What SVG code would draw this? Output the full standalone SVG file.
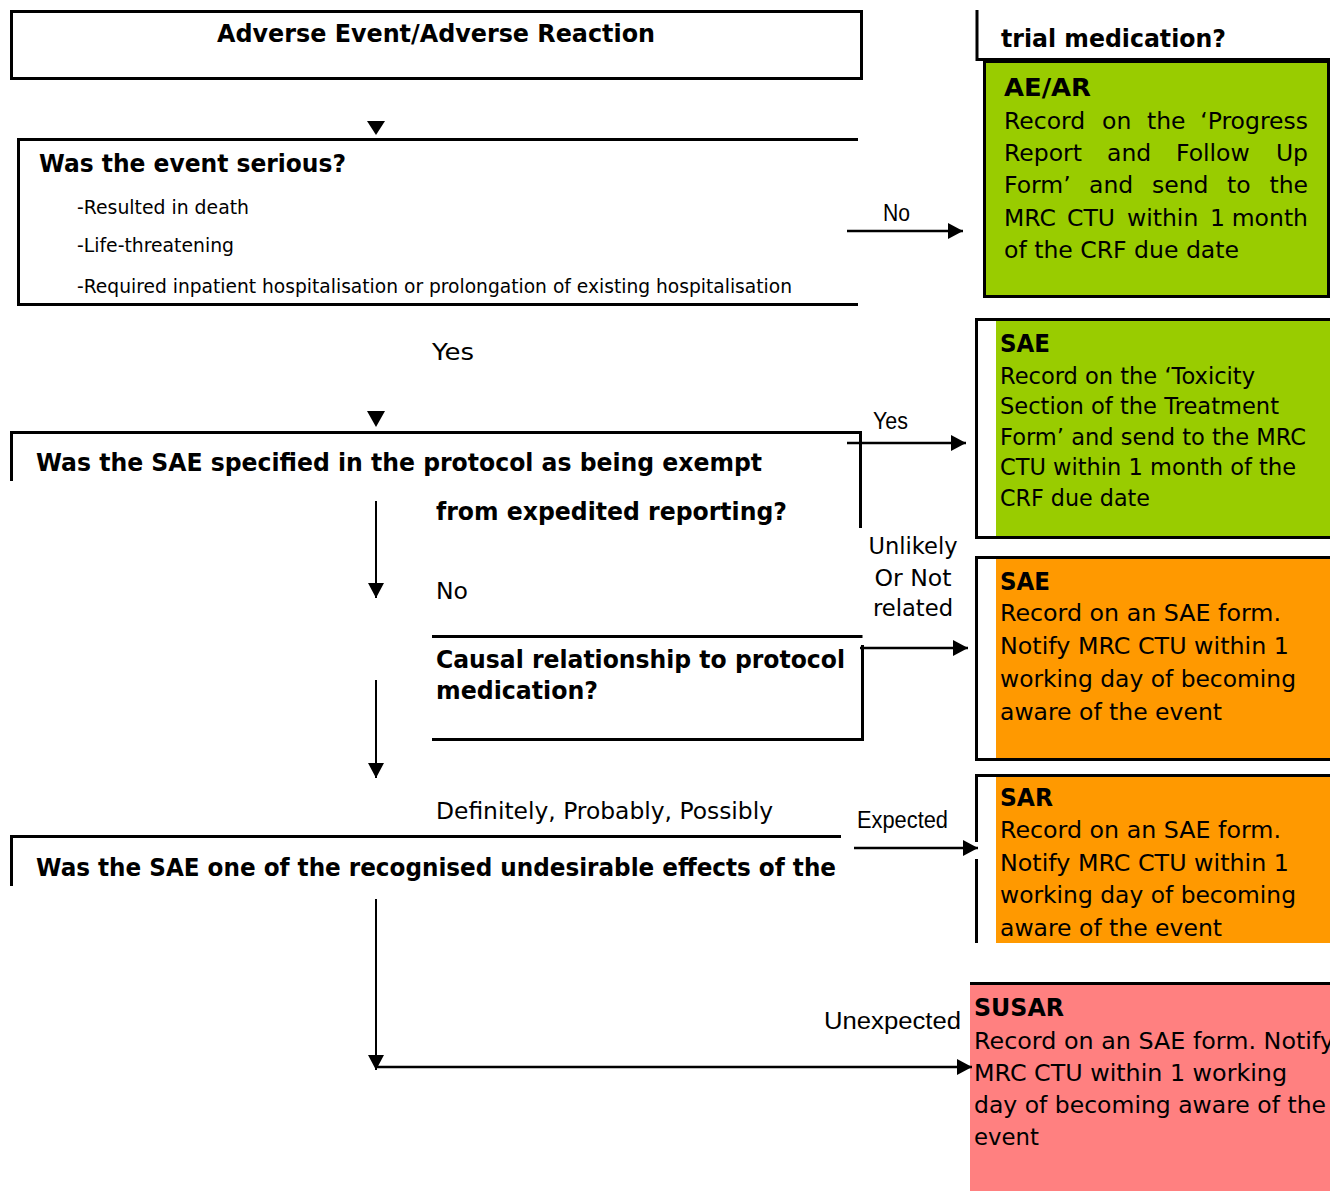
<svg xmlns="http://www.w3.org/2000/svg" width="1330" height="1191" viewBox="0 0 1330 1191">
  <style>
    text { font-family: "DejaVu Sans", Verdana, sans-serif; fill: #000; }
    .hd { font-weight: bold; font-size: 24px; }
    .bd { font-size: 23.5px; }
    .sm { font-size: 19px; }
    .lb { font-size: 23px; }
    .nl { font-family: "Liberation Sans", Arial, sans-serif; font-size: 23px; }
    .frame { fill: none; stroke: #000; stroke-width: 3; }
    .edge { fill: none; stroke: #000; stroke-width: 2.5; }
    .thin { fill: none; stroke: #000; stroke-width: 2; }
  </style>
  <defs>
    <marker id="ah" markerUnits="userSpaceOnUse" markerWidth="15" markerHeight="16" refX="15" refY="8" orient="auto">
      <path d="M0,0 L15,8 L0,16 z" fill="#000"/>
    </marker>
  </defs>

  <rect width="1330" height="1191" fill="#fff"/>

  <!-- start box -->
  <g id="n-start">
    <rect class="frame" x="11.5" y="11.5" width="850" height="67"/>
    <text class="hd" x="217" y="42" textLength="438" lengthAdjust="spacingAndGlyphs">Adverse Event/Adverse Reaction</text>
  </g>

  <!-- seriousness question -->
  <g id="n-serious">
    <path class="frame" d="M858,139.5 H18.5 V304.5 H858"/>
    <text class="hd" x="39" y="172" textLength="307" lengthAdjust="spacingAndGlyphs">Was the event serious?</text>
    <text class="sm" x="77" y="214" textLength="172" lengthAdjust="spacingAndGlyphs">-Resulted in death</text>
    <text class="sm" x="77" y="252" textLength="157" lengthAdjust="spacingAndGlyphs">-Life-threatening</text>
    <text class="sm" x="77" y="293" textLength="715" lengthAdjust="spacingAndGlyphs">-Required inpatient hospitalisation or prolongation of existing hospitalisation</text>
  </g>

  <!-- trailing part of the expectedness question -->
  <g id="n-trial">
    <path class="frame" d="M977,10 V59.5 H1330"/>
    <text class="hd" x="1001" y="47" textLength="225" lengthAdjust="spacingAndGlyphs">trial medication?</text>
  </g>

  <!-- AE/AR outcome (justified paragraph) -->
  <g id="n-aear">
    <rect x="984.5" y="61.5" width="344" height="235" fill="#99CC00" stroke="#000" stroke-width="3"/>
    <text class="hd" x="1004" y="96" textLength="87" lengthAdjust="spacingAndGlyphs">AE/AR</text>
    <text class="bd" y="129"><tspan x="1004">Record</tspan><tspan x="1102">on</tspan><tspan x="1147">the</tspan><tspan x="1308" text-anchor="end">‘Progress</tspan></text>
    <text class="bd" y="161"><tspan x="1004">Report</tspan><tspan x="1107">and</tspan><tspan x="1176">Follow</tspan><tspan x="1308" text-anchor="end">Up</tspan></text>
    <text class="bd" y="193"><tspan x="1004">Form’</tspan><tspan x="1089">and</tspan><tspan x="1152">send</tspan><tspan x="1227">to</tspan><tspan x="1308" text-anchor="end">the</tspan></text>
    <text class="bd" y="226"><tspan x="1004">MRC</tspan><tspan x="1067">CTU</tspan><tspan x="1127">within</tspan><tspan x="1210">1</tspan><tspan x="1308" text-anchor="end">month</tspan></text>
    <text class="bd" x="1004" y="258" textLength="235" lengthAdjust="spacingAndGlyphs">of the CRF due date</text>
  </g>

  <!-- exemption question -->
  <g id="n-exempt">
    <path class="frame" d="M11.5,481 V432.5 H860.5 V528"/>
    <text class="hd" x="36" y="471" textLength="726" lengthAdjust="spacingAndGlyphs">Was the SAE specified in the protocol as being exempt</text>
    <text class="hd" x="436" y="520" textLength="351" lengthAdjust="spacingAndGlyphs">from expedited reporting?</text>
  </g>

  <!-- SAE, exempt outcome -->
  <g id="n-sae-exempt">
    <rect x="996" y="320" width="334" height="217" fill="#99CC00"/>
    <path class="frame" d="M1330,319.5 H976.5 V537.5 H1330"/>
    <text class="hd" x="1000" y="352" textLength="50" lengthAdjust="spacingAndGlyphs">SAE</text>
    <text class="bd" x="1000" y="384" textLength="255" lengthAdjust="spacingAndGlyphs">Record on the ‘Toxicity</text>
    <text class="bd" x="1000" y="414" textLength="279" lengthAdjust="spacingAndGlyphs">Section of the Treatment</text>
    <text class="bd" x="1000" y="445" textLength="306" lengthAdjust="spacingAndGlyphs">Form’ and send to the MRC</text>
    <text class="bd" x="1000" y="475" textLength="296" lengthAdjust="spacingAndGlyphs">CTU within 1 month of the</text>
    <text class="bd" x="1000" y="506" textLength="150" lengthAdjust="spacingAndGlyphs">CRF due date</text>
  </g>

  <!-- causality question -->
  <g id="n-causal">
    <path class="frame" d="M432,636.5 H862.5 M862.5,645 V739.5 H432"/>
    <text class="hd" x="436" y="668" textLength="409" lengthAdjust="spacingAndGlyphs">Causal relationship to protocol</text>
    <text class="hd" x="436" y="699" textLength="162" lengthAdjust="spacingAndGlyphs">medication?</text>
  </g>

  <!-- SAE, unrelated outcome -->
  <g id="n-sae-unrelated">
    <rect x="996" y="558" width="334" height="200" fill="#FF9900"/>
    <path class="frame" d="M1330,557.5 H976.5 V759.5 H1330"/>
    <text class="hd" x="1000" y="590" textLength="50" lengthAdjust="spacingAndGlyphs">SAE</text>
    <text class="bd" x="1000" y="621" textLength="281" lengthAdjust="spacingAndGlyphs">Record on an SAE form.</text>
    <text class="bd" x="1000" y="654" textLength="289" lengthAdjust="spacingAndGlyphs">Notify MRC CTU within 1</text>
    <text class="bd" x="1000" y="687" textLength="296" lengthAdjust="spacingAndGlyphs">working day of becoming</text>
    <text class="bd" x="1000" y="720" textLength="222" lengthAdjust="spacingAndGlyphs">aware of the event</text>
  </g>

  <!-- expectedness question -->
  <g id="n-expected">
    <path class="frame" d="M11.5,886 V836.5 H841"/>
    <text class="hd" x="36" y="876" textLength="800" lengthAdjust="spacingAndGlyphs">Was the SAE one of the recognised undesirable effects of the</text>
  </g>

  <!-- SAR outcome -->
  <g id="n-sar">
    <rect x="996" y="777" width="334" height="166" fill="#FF9900"/>
    <path class="frame" d="M1330,775.5 H976.5 V842 M976.5,859 V943"/>
    <text class="hd" x="1000" y="806" textLength="53" lengthAdjust="spacingAndGlyphs">SAR</text>
    <text class="bd" x="1000" y="838" textLength="281" lengthAdjust="spacingAndGlyphs">Record on an SAE form.</text>
    <text class="bd" x="1000" y="871" textLength="289" lengthAdjust="spacingAndGlyphs">Notify MRC CTU within 1</text>
    <text class="bd" x="1000" y="903" textLength="296" lengthAdjust="spacingAndGlyphs">working day of becoming</text>
    <text class="bd" x="1000" y="936" textLength="222" lengthAdjust="spacingAndGlyphs">aware of the event</text>
  </g>

  <!-- SUSAR outcome -->
  <g id="n-susar">
    <rect x="970" y="984" width="360" height="207" fill="#FF8080"/>
    <path class="frame" d="M970,983.5 H1330"/>
    <text class="hd" x="974" y="1016" textLength="90" lengthAdjust="spacingAndGlyphs">SUSAR</text>
    <text class="bd" x="974" y="1049" textLength="360" lengthAdjust="spacingAndGlyphs">Record on an SAE form. Notify</text>
    <text class="bd" x="974" y="1081" textLength="313" lengthAdjust="spacingAndGlyphs">MRC CTU within 1 working</text>
    <text class="bd" x="974" y="1113" textLength="352" lengthAdjust="spacingAndGlyphs">day of becoming aware of the</text>
    <text class="bd" x="974" y="1145" textLength="65" lengthAdjust="spacingAndGlyphs">event</text>
  </g>

  <!-- connectors and their labels -->
  <g id="connectors">
    <polygon points="367,121 385,121 376,135" fill="#000"/>
    <line class="edge" x1="847" y1="231" x2="963" y2="231" marker-end="url(#ah)"/>
    <text class="nl" x="883" y="221" textLength="27" lengthAdjust="spacingAndGlyphs">No</text>

    <text class="lb" x="432" y="360" textLength="42" lengthAdjust="spacingAndGlyphs">Yes</text>
    <polygon points="367,411 385,411 376,427" fill="#000"/>

    <line class="edge" x1="847" y1="443" x2="966" y2="443" marker-end="url(#ah)"/>
    <text class="nl" x="873" y="429" textLength="35" lengthAdjust="spacingAndGlyphs">Yes</text>

    <line class="thin" x1="376" y1="501" x2="376" y2="598" marker-end="url(#ah)"/>
    <text class="lb" x="436" y="599" textLength="32" lengthAdjust="spacingAndGlyphs">No</text>

    <line class="edge" x1="860" y1="648" x2="968" y2="648" marker-end="url(#ah)"/>
    <text class="lb" x="913" y="554" text-anchor="middle" textLength="89" lengthAdjust="spacingAndGlyphs">Unlikely</text>
    <text class="lb" x="913" y="586" text-anchor="middle" textLength="77" lengthAdjust="spacingAndGlyphs">Or Not</text>
    <text class="lb" x="913" y="616" text-anchor="middle" textLength="80" lengthAdjust="spacingAndGlyphs">related</text>

    <line class="thin" x1="376" y1="680" x2="376" y2="778" marker-end="url(#ah)"/>
    <text class="lb" x="436" y="819" textLength="337" lengthAdjust="spacingAndGlyphs">Definitely, Probably, Possibly</text>

    <line class="edge" x1="854" y1="848" x2="978" y2="848" marker-end="url(#ah)"/>
    <text class="nl" x="857" y="828" textLength="91" lengthAdjust="spacingAndGlyphs">Expected</text>

    <line class="thin" x1="376" y1="899" x2="376" y2="1070" marker-end="url(#ah)"/>
    <line class="edge" x1="376" y1="1067" x2="972" y2="1067" stroke-width="3" marker-end="url(#ah)"/>
    <text class="nl" x="824" y="1029" textLength="137" lengthAdjust="spacingAndGlyphs">Unexpected</text>
  </g>
</svg>
